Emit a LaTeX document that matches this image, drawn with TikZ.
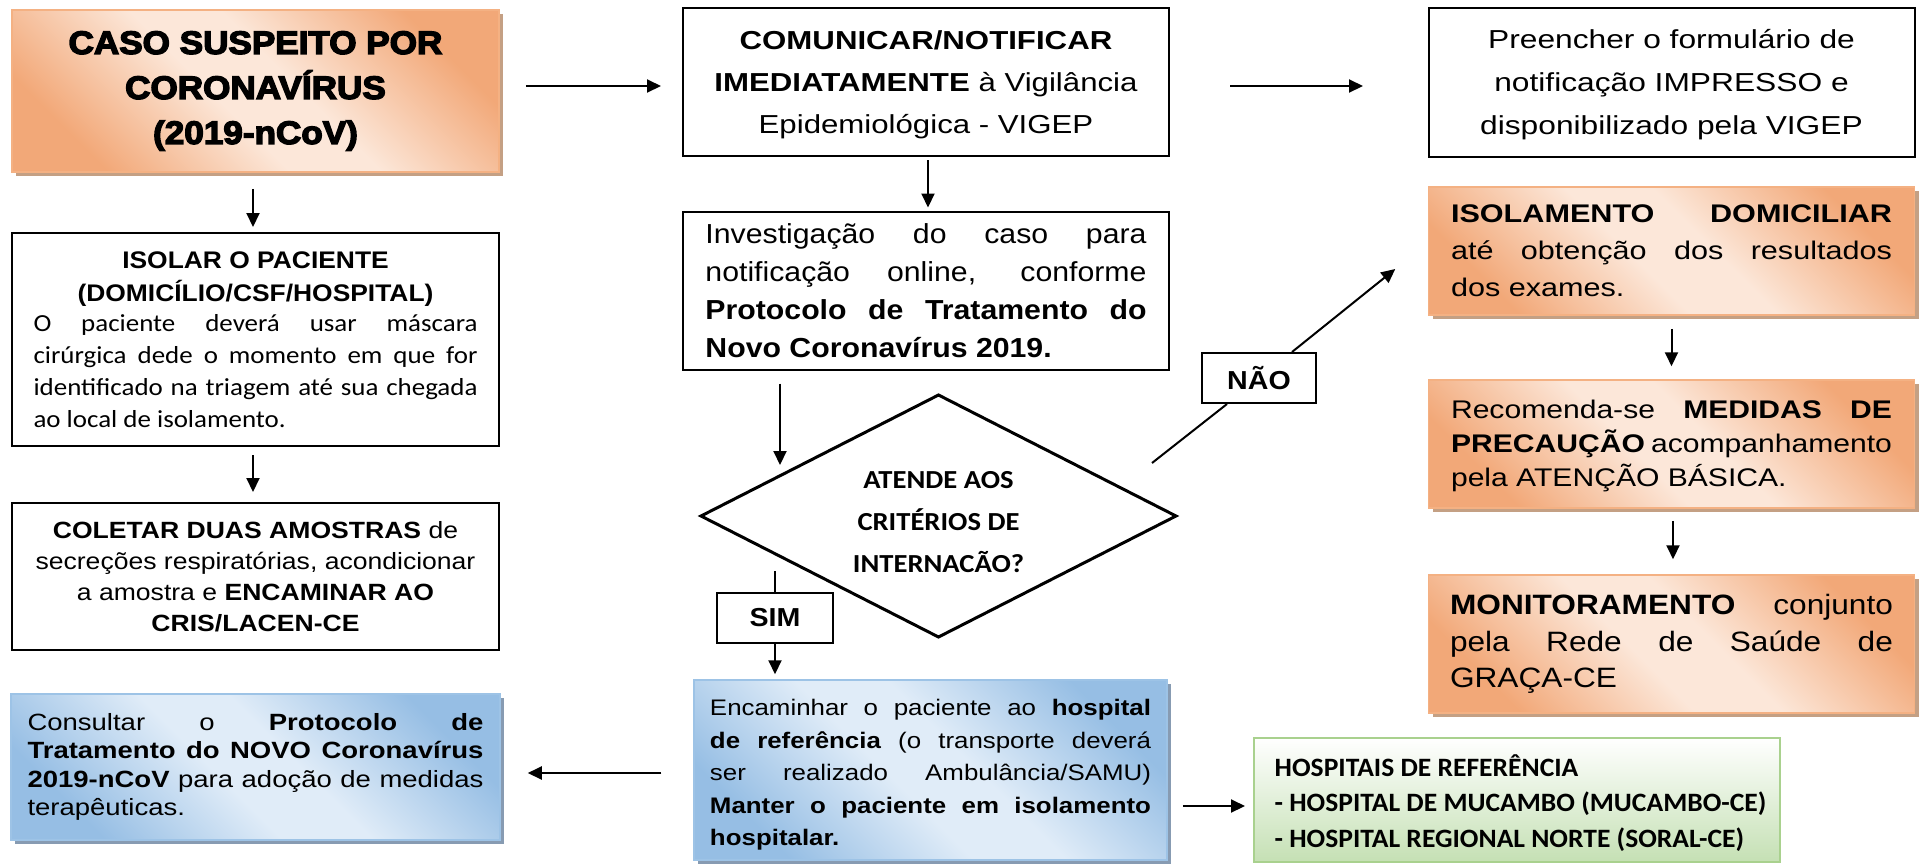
\documentclass[tikz,border=0pt]{standalone}
\usepackage{fontspec}
\setmainfont{Liberation Sans}
\newfontfamily\calib{Carlito}
\newfontfamily\heavy{Liberation Sans Bold}[FakeBold=4]
\usepackage{graphicx}
\usetikzlibrary{arrows.meta,shapes.geometric,calc,shadows}

\definecolor{ordark}{RGB}{242,168,120}
\definecolor{orlight}{RGB}{252,231,217}
\definecolor{orborder}{RGB}{244,177,131}
\definecolor{orshadow}{RGB}{196,160,132}
\definecolor{bldark}{RGB}{150,190,228}
\definecolor{bllight}{RGB}{224,236,248}
\definecolor{blborder}{RGB}{157,195,230}
\definecolor{blshadow}{RGB}{135,155,178}
\definecolor{grbottom}{RGB}{197,224,180}
\definecolor{grborder}{RGB}{169,209,142}

\pgfdeclarehorizontalshading{orshade}{100bp}{color(0bp)=(ordark); color(25bp)=(ordark); color(45bp)=(orlight); color(55bp)=(orlight); color(75bp)=(ordark); color(100bp)=(ordark)}
\pgfdeclarehorizontalshading{blshade}{100bp}{color(0bp)=(bldark); color(25bp)=(bldark); color(45bp)=(bllight); color(55bp)=(bllight); color(75bp)=(bldark); color(100bp)=(bldark)}

\newcommand\tx[3]{\scalebox{#1}[1]{\parbox{#2}{\hyphenpenalty10000\exhyphenpenalty10000\tolerance10000 #3}}}

\tikzset{
  plainbox/.style={draw=black, line width=2pt, fill=white, inner sep=0pt},
  orbox/.style={draw=orborder, line width=1.5pt, shading=orshade, shading angle=45, inner sep=0pt,
    drop shadow={shadow xshift=4pt, shadow yshift=-4pt, fill=orshadow, opacity=1}},
  blbox/.style={draw=blborder, line width=1.5pt, shading=blshade, shading angle=45, inner sep=0pt,
    drop shadow={shadow xshift=4pt, shadow yshift=-4pt, fill=blshadow, opacity=1}},
  grbox/.style={draw=grborder, line width=2pt, top color=white, bottom color=grbottom, inner sep=0pt},
  arr/.style={line width=2pt, -{Triangle[length=14pt,width=13pt]}},
  conn/.style={line width=2pt},
  decision/.style={line width=3pt},
}

\begin{document}
\begin{tikzpicture}[x=1pt,y=-1pt]
\fill[white] (0,0) rectangle (1923,863);
\useasboundingbox (0,0) rectangle (1923,863);

% left column
\node[orbox, minimum width=487pt, minimum height=162pt] (caso) at (255.5,91)
  {\tx{1.08}{440pt}{\centering\heavy\fontsize{32.5pt}{45pt}\selectfont CASO SUSPEITO POR\\CORONAVÍRUS\\(2019-nCoV)\par}};

\node[plainbox, minimum width=487pt, minimum height=213pt] (isolar) at (255.5,339.5)
  {\tx{1.1}{403.6pt}{{\centering\bfseries\fontsize{24pt}{33pt}\selectfont ISOLAR O PACIENTE\\(DOMICÍLIO/CSF/HOSPITAL)\par}\vspace{-2pt}%
   {\calib\fontsize{24.5pt}{32pt}\selectfont O paciente deverá usar máscara\linebreak cirúrgica dede o momento em que for\linebreak identificado na triagem até sua chegada\linebreak ao local de isolamento.\par}}};

\node[plainbox, minimum width=487pt, minimum height=147pt] (coletar) at (255.5,576.5)
  {\tx{1.13}{407pt}{\centering\fontsize{23.5pt}{31pt}\selectfont \textbf{COLETAR DUAS AMOSTRAS} de\\secreções respiratórias, acondicionar\\a amostra e \textbf{ENCAMINAR AO}\\\textbf{CRIS/LACEN-CE}\par}};

\node[blbox, minimum width=489pt, minimum height=146pt] (cons) at (255.5,767)
  {\tx{1.17}{389.7pt}{\fontsize{23.5pt}{28.5pt}\selectfont Consultar o \textbf{Protocolo de}\linebreak\textbf{Tratamento do NOVO Coronavírus}\linebreak\textbf{2019-nCoV} para adoção de medidas\linebreak terapêuticas.\par}};

% middle column
\node[plainbox, minimum width=486pt, minimum height=148pt] (com) at (926,82)
  {\tx{1.2}{392pt}{\vspace*{6pt}\centering\fontsize{26pt}{42pt}\selectfont \textbf{COMUNICAR/NOTIFICAR}\\\textbf{IMEDIATAMENTE} à Vigilância\\Epidemiológica - VIGEP\par}};

\node[plainbox, minimum width=486pt, minimum height=158pt] (inv) at (926,290.5)
  {\tx{1.1}{401pt}{\fontsize{27.5pt}{38pt}\selectfont Investigação do caso para\linebreak notificação online, conforme\linebreak\textbf{Protocolo de Tratamento do}\linebreak\textbf{Novo Coronavírus 2019.}\par}};

\node[inner sep=0pt] (dia) at (938.5,522)
  {\tx{1.1}{180pt}{\centering\calib\bfseries\fontsize{26pt}{42pt}\selectfont ATENDE AOS\\CRITÉRIOS DE\\INTERNACÃO?\par}};
\draw[decision] ($(dia.center)+(-237.5,-6)$) -- ($(dia.center)+(0,-127)$) -- ($(dia.center)+(237.5,-6)$) -- ($(dia.center)+(0,115)$) -- cycle;

\node[plainbox, minimum width=116pt, minimum height=50pt] (sim) at (775,618)
  {\scalebox{1.1}[1]{\bfseries\fontsize{26pt}{30pt}\selectfont SIM}};

\node[blbox, minimum width=473pt, minimum height=180pt] (enc) at (930.5,770)
  {\tx{1.15}{383.5pt}{\vspace*{10pt}\fontsize{22.5pt}{32.5pt}\selectfont Encaminhar o paciente ao \textbf{hospital}\linebreak\textbf{de referência} (o transporte deverá\linebreak ser realizado Ambulância/SAMU)\linebreak\textbf{Manter o paciente em isolamento}\linebreak\textbf{hospitalar.}\par}};

\node[grbox, minimum width=526pt, minimum height=124pt] (hosp) at (1517,800)
  {\tx{1.04}{482pt}{\vspace*{6pt}\raggedright\leftskip=8pt\calib\bfseries\fontsize{26.5pt}{35.5pt}\selectfont HOSPITAIS DE REFERÊNCIA\\- HOSPITAL DE MUCAMBO (MUCAMBO-CE)\\- HOSPITAL REGIONAL NORTE (SORAL-CE)\par}};

% right column
\node[plainbox, minimum width=486pt, minimum height=149pt] (pre) at (1671.5,82.5)
  {\tx{1.22}{360pt}{\vspace*{4pt}\centering\fontsize{26pt}{43pt}\selectfont Preencher o formulário de\\notificação IMPRESSO e\\disponibilizado pela VIGEP\par}};

\node[plainbox, minimum width=114pt, minimum height=50pt] (nao) at (1259,378)
  {\scalebox{1.1}[1]{\bfseries\fontsize{26pt}{30pt}\selectfont NÃO}};

\node[orbox, minimum width=486pt, minimum height=128pt] (iso) at (1671.5,251)
  {\tx{1.2}{367.5pt}{\fontsize{25.5pt}{37pt}\selectfont \textbf{ISOLAMENTO DOMICILIAR}\linebreak até obtenção dos resultados\linebreak dos exames.\par}};

\node[orbox, minimum width=486pt, minimum height=128pt] (rec) at (1671.5,444)
  {\tx{1.18}{373.7pt}{\vspace*{4pt}\fontsize{25.5pt}{34pt}\selectfont Recomenda-se \textbf{MEDIDAS DE}\linebreak\textbf{PRECAUÇÃO} acompanhamento\linebreak pela ATENÇÃO BÁSICA.\par}};

\node[orbox, minimum width=486pt, minimum height=138pt] (mon) at (1671.5,644)
  {\tx{1.13}{392pt}{\fontsize{28pt}{36.7pt}\selectfont \textbf{MONITORAMENTO} conjunto\linebreak pela Rede de Saúde de\linebreak GRAÇA-CE\par}};

% connectors
\draw[arr] ($(caso.south)+(-2.5,16)$) -- ($(isolar.north)+(-2.5,-5)$);
\draw[arr] ($(isolar.south)+(-2.5,8)$) -- ($(coletar.north)+(-2.5,-10)$);
\draw[arr] ($(caso.east)+(26,-5)$) -- ($(com.west)+(-21,4)$);
\draw[arr] ($(com.south)+(2,3)$) -- ($(inv.north)+(2,-3)$);
\draw[arr] ($(inv.south)+(-146,13)$) -- ($(dia.center)+(-158.5,-57)$);
\draw[conn] ($(dia.center)+(-163.5,49)$) -- (sim.north);
\draw[arr] (sim.south) -- ($(sim.south |- enc.north)+(0,-5)$);
\draw[arr] ($(enc.west)+(-32,3)$) -- ($(cons.east)+(27,6)$);
\draw[arr] ($(enc.east)+(15,36)$) -- ($(hosp.west)+(-8,6)$);
\draw[arr] ($(com.east)+(60,4)$) -- ($(pre.west)+(-64.5,3.5)$);
\draw[conn] ($(dia.center)+(213.5,-59)$) -- ($(nao.south)+(-32,0)$);
\draw[arr] ($(nao.north)+(33,0)$) -- ($(iso.west)+(-32.5,18)$);
\draw[arr] ($(iso.south)+(0,13)$) -- ($(rec.north)+(0,-13)$);
\draw[arr] ($(rec.south)+(1.5,12)$) -- ($(mon.north)+(1.5,-15)$);
\end{tikzpicture}
\end{document}
